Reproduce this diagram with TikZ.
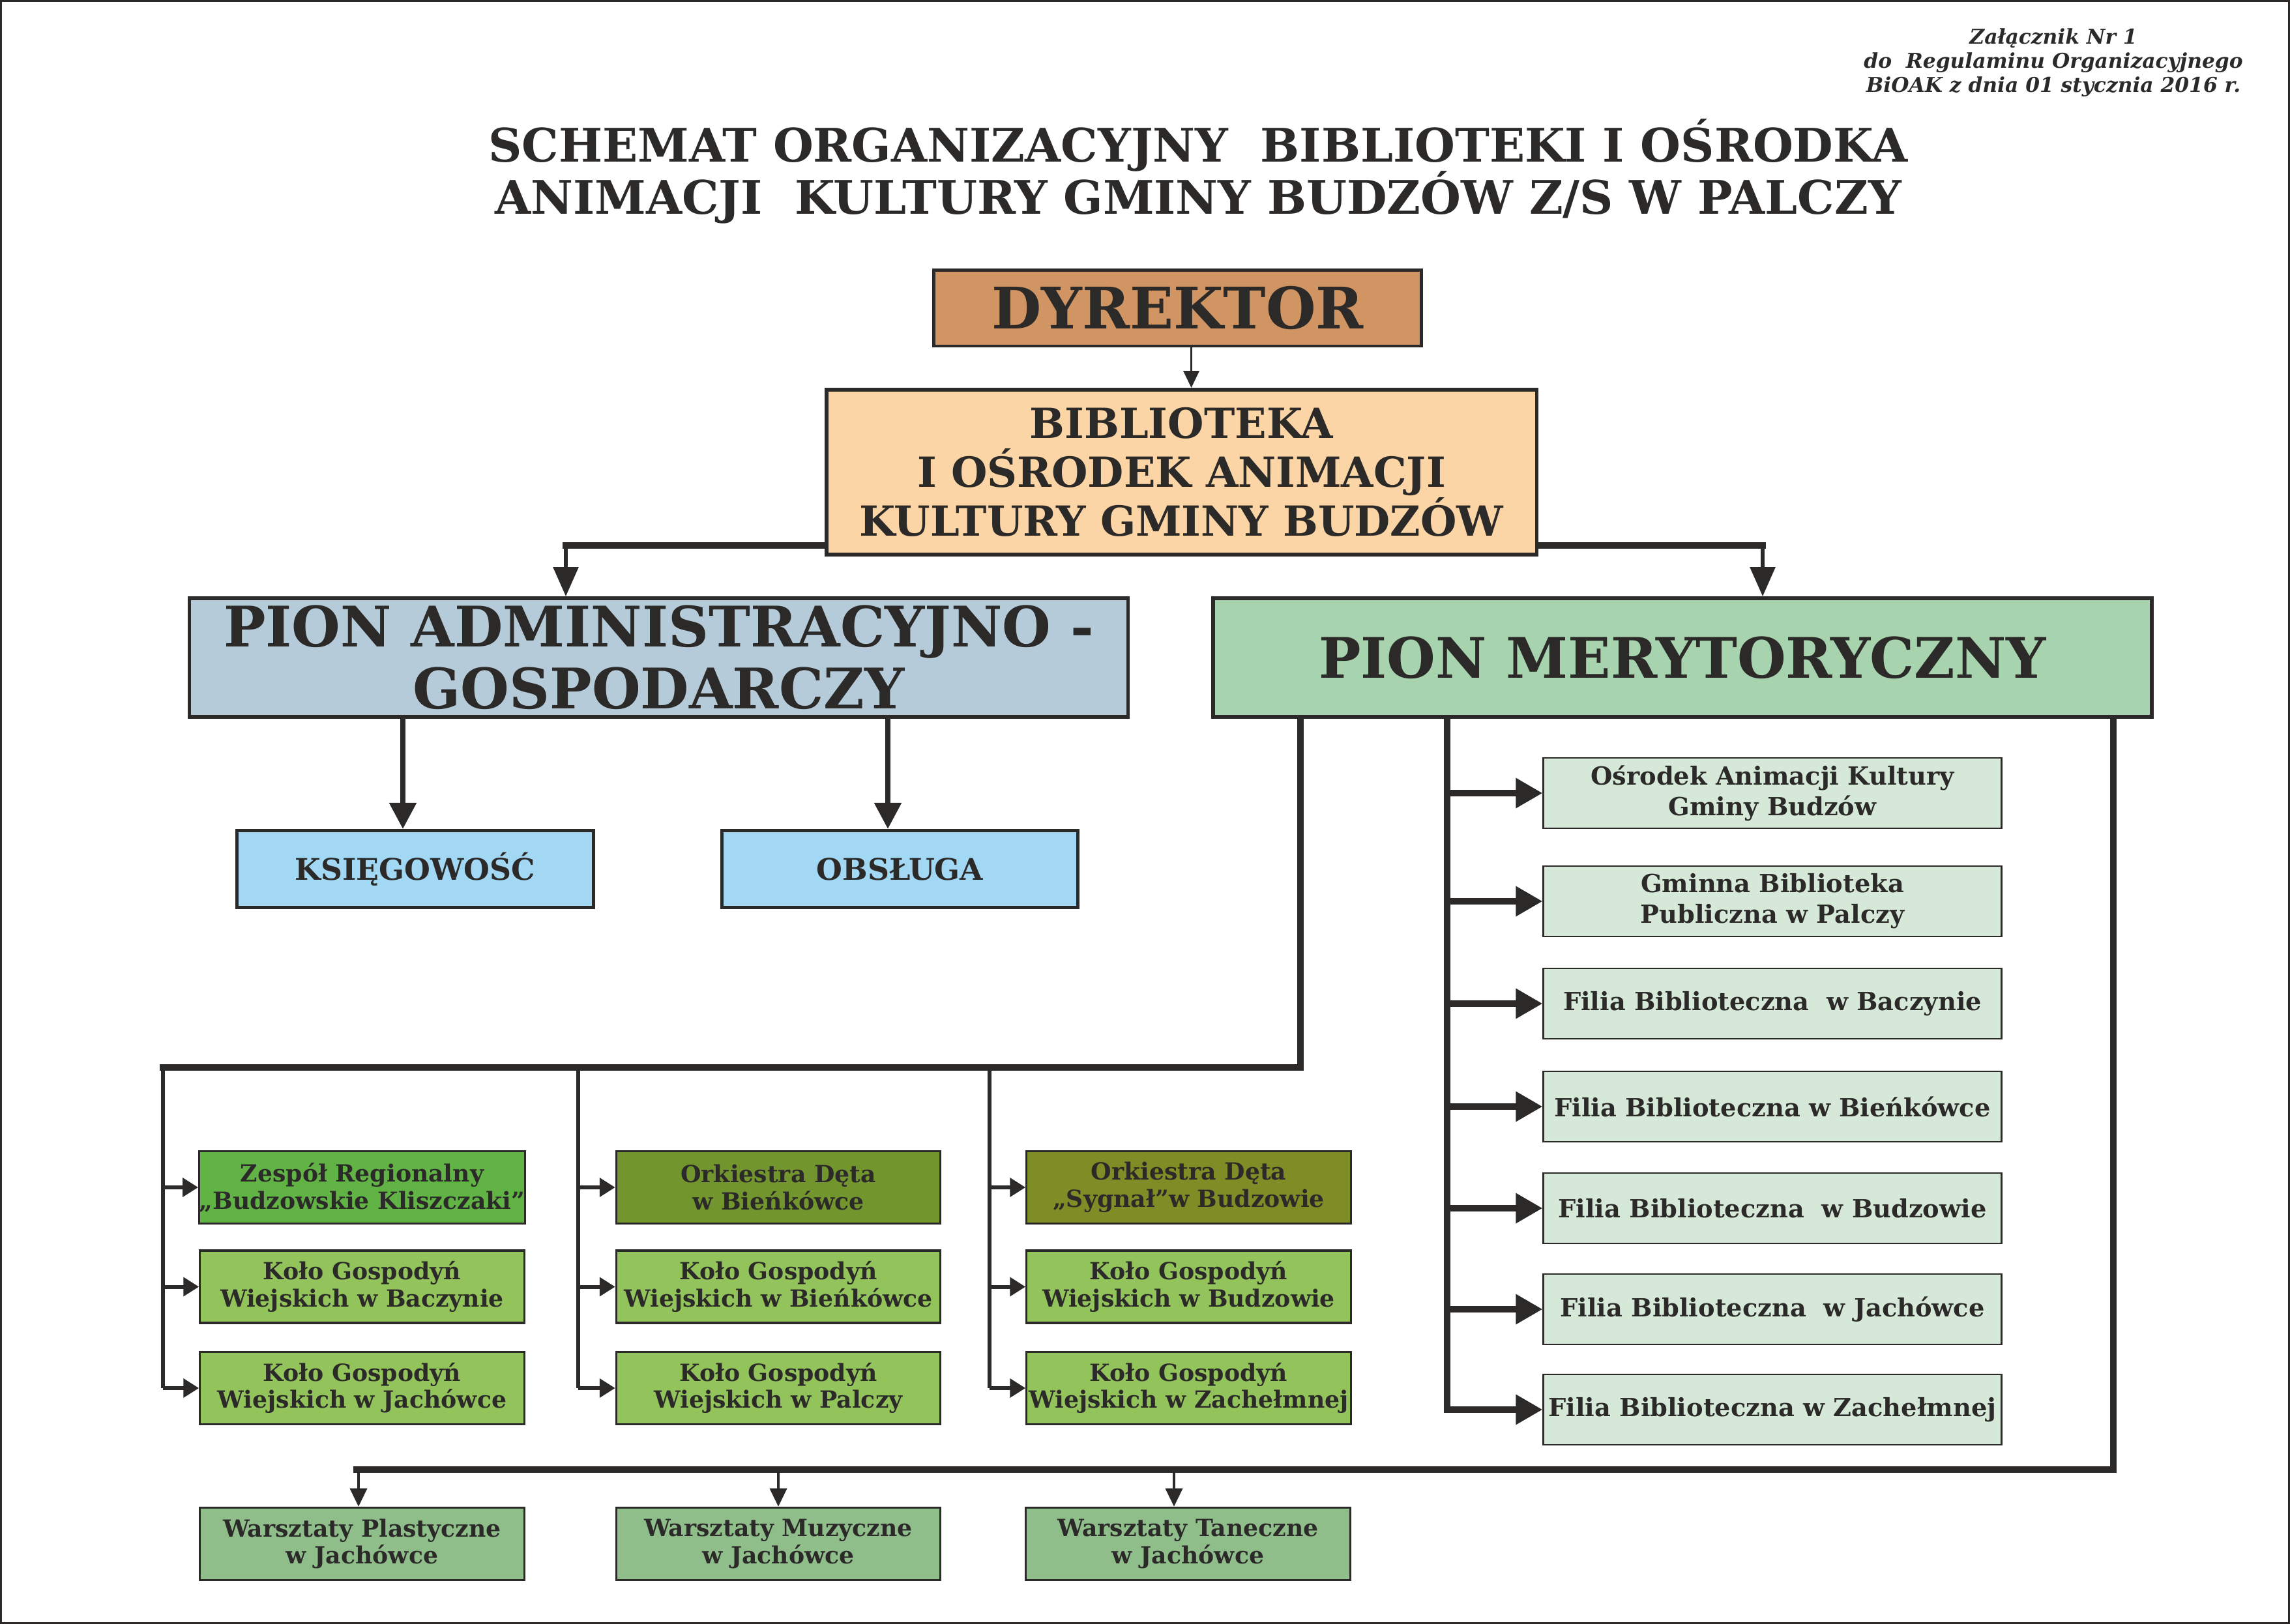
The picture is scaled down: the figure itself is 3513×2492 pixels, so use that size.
\documentclass[tikz,border=0pt]{standalone}
\usepackage{fontspec}
\setmainfont{DejaVu Serif}
\usetikzlibrary{arrows.meta}
\definecolor{ink}{HTML}{2B2A29}
\definecolor{dyrfill}{HTML}{D09563}
\definecolor{bibfill}{HTML}{FBD5A5}
\definecolor{admfill}{HTML}{B6CBD9}
\definecolor{merfill}{HTML}{A7D4AE}
\definecolor{servfill}{HTML}{A2D8F4}
\definecolor{libfill}{HTML}{D6E9D8}
\definecolor{zespfill}{HTML}{62B346}
\definecolor{orkfill}{HTML}{72962D}
\definecolor{sygfill}{HTML}{7F8D26}
\definecolor{kgwfill}{HTML}{93C35B}
\definecolor{warfill}{HTML}{8FBE8B}

\begin{document}
\begin{tikzpicture}[x=0.01cm,y=-0.01cm,
  orgbox/.style={draw=ink,text=ink,align=center,inner sep=0pt},
  dyrbox/.style={orgbox,line width=1.4pt,fill=dyrfill,minimum width=7.47cm,minimum height=1.16cm,font=\bfseries\fontsize{25}{30}\selectfont},
  bibbox/.style={orgbox,line width=1.6pt,fill=bibfill,minimum width=10.89cm,minimum height=2.53cm,font=\bfseries\fontsize{18.1}{21.3}\selectfont},
  pionbox/.style={orgbox,line width=1.6pt,minimum width=14.39cm,minimum height=1.82cm,font=\bfseries\fontsize{24.4}{27}\selectfont},
  servbox/.style={orgbox,line width=1.4pt,fill=servfill,minimum width=5.46cm,minimum height=1.18cm,font=\bfseries\fontsize{13}{16}\selectfont},
  libbox/.style={orgbox,line width=0.8pt,fill=libfill,minimum width=7.02cm,minimum height=1.08cm,font=\bfseries\fontsize{10.9}{13.4}\selectfont},
  clubbox/.style={orgbox,line width=0.9pt,minimum width=4.97cm,minimum height=1.11cm,font=\bfseries\fontsize{10.3}{11.9}\selectfont},
  bus/.style={draw=ink,line width=2.85pt,line cap=rect},
  drop/.style={draw=ink,line width=1.8pt},
  thinarrow/.style={draw=ink,line width=1.1pt,-{Triangle[length=7.4pt,width=6.8pt]}},
  pionarrow/.style={draw=ink,line width=1.7pt,-{Triangle[length=12.8pt,width=10.8pt]}},
  midarrow/.style={draw=ink,line width=2.3pt,-{Triangle[length=11.4pt,width=11.4pt]}},
  libarrow/.style={draw=ink,line width=2.85pt,-{Triangle[length=11.7pt,width=12.5pt]}},
  clubarrow/.style={draw=ink,line width=1.7pt,-{Triangle[length=6.8pt,width=8pt]}},
  workarrow/.style={draw=ink,line width=1.2pt,-{Triangle[length=8pt,width=7.4pt]}}]
  \useasboundingbox (0,0) rectangle (3513,2492);
  \draw[ink,line width=0.8pt] (1.5,1.5) rectangle (3511.5,2490.5);

  \node[text=ink,align=center,font=\bfseries\itshape\fontsize{8.9}{10.5}\selectfont] (annex) at (3150,96) {Załącznik Nr 1\\do\ \ Regulaminu Organizacyjnego\\BiOAK z dnia 01 stycznia 2016 r.};
  \node[text=ink,align=center,font=\bfseries\fontsize{20.2}{23}\selectfont] (title) at (1838,263) {SCHEMAT ORGANIZACYJNY\ \ BIBLIOTEKI I OŚRODKA\\ANIMACJI\ \ KULTURY GMINY BUDZÓW Z/S W PALCZY};

  \node[dyrbox] (dyr) at (1806.5,473) {DYREKTOR};
  \node[bibbox] (bib) at (1812.5,724.5) {BIBLIOTEKA\\I OŚRODEK ANIMACJI\\KULTURY GMINY BUDZÓW};
  \node[pionbox,fill=admfill] (adm) at (1010.5,1009) {PION ADMINISTRACYJNO -\\GOSPODARCZY};
  \node[pionbox,fill=merfill] (mer) at (2581,1009) {PION MERYTORYCZNY};
  \node[servbox] (ksi) at (637,1333.5) {KSIĘGOWOŚĆ};
  \node[servbox] (obs) at (1380.5,1333.5) {OBSŁUGA};

  \node[libbox] (r1) at (2719,1217) {Ośrodek Animacji Kultury\\Gminy Budzów};
  \node[libbox] (r2) at (2719,1383) {Gminna Biblioteka\\Publiczna w Palczy};
  \node[libbox] (r3) at (2719,1540) {Filia Biblioteczna\ \ w Baczynie};
  \node[libbox] (r4) at (2719,1698) {Filia Biblioteczna w Bieńkówce};
  \node[libbox] (r5) at (2719,1854) {Filia Biblioteczna\ \ w Budzowie};
  \node[libbox] (r6) at (2719,2009) {Filia Biblioteczna\ \ w Jachówce};
  \node[libbox] (r7) at (2719,2163) {Filia Biblioteczna w Zachełmnej};

  \node[clubbox,fill=zespfill] (g11) at (555.5,1822) {Zespół Regionalny\\„Budzowskie Kliszczaki”};
  \node[clubbox,fill=kgwfill] (g12) at (555.5,1974.5) {Koło Gospodyń\\Wiejskich w Baczynie};
  \node[clubbox,fill=kgwfill] (g13) at (555.5,2130) {Koło Gospodyń\\Wiejskich w Jachówce};
  \node[clubbox,fill=orkfill] (g21) at (1194,1822) {Orkiestra Dęta\\w Bieńkówce};
  \node[clubbox,fill=kgwfill] (g22) at (1194,1974.5) {Koło Gospodyń\\Wiejskich w Bieńkówce};
  \node[clubbox,fill=kgwfill] (g23) at (1194,2130) {Koło Gospodyń\\Wiejskich w Palczy};
  \node[clubbox,fill=sygfill] (g31) at (1823.5,1822) {Orkiestra Dęta\\„Sygnał”w Budzowie};
  \node[clubbox,fill=kgwfill] (g32) at (1823.5,1974.5) {Koło Gospodyń\\Wiejskich w Budzowie};
  \node[clubbox,fill=kgwfill] (g33) at (1823.5,2130) {Koło Gospodyń\\Wiejskich w Zachełmnej};

  \node[clubbox,fill=warfill] (w1) at (555.5,2369) {Warsztaty Plastyczne\\w Jachówce};
  \node[clubbox,fill=warfill] (w2) at (1194,2369) {Warsztaty Muzyczne\\w Jachówce};
  \node[clubbox,fill=warfill] (w3) at (1822.5,2369) {Warsztaty Taneczne\\w Jachówce};

  \coordinate (ja) at (868,837);
  \coordinate (jm) at (2704,837);
  \coordinate (lb) at (1995,1638);
  \coordinate (c1) at (250,1638);
  \coordinate (c2) at (887,1638);
  \coordinate (c3) at (1518,1638);
  \coordinate (rx) at (2220,0);
  \coordinate (wx) at (3242,2255);
  \coordinate (wl) at (547,2255);

  \draw[thinarrow] ([xshift=0.21cm]dyr.south) -- ([xshift=0.21cm]dyr.south |- bib.north);
  \draw[bus] (bib.west |- ja) -- (ja);
  \draw[bus] (bib.east |- jm) -- (jm);
  \draw[pionarrow] (ja) -- (ja |- adm.north);
  \draw[pionarrow] (jm) -- (jm |- mer.north);
  \draw[midarrow] ([xshift=-0.19cm]ksi.north |- adm.south) -- ([xshift=-0.19cm]ksi.north);
  \draw[midarrow] ([xshift=-0.185cm]obs.north |- adm.south) -- ([xshift=-0.185cm]obs.north);

  \draw[bus] (mer.south -| lb) -- (lb) -- (c1);
  \foreach \c in {1,2,3} {
    \draw[drop] (c\c) -- (c\c |- g\c3.west);
    \foreach \r in {1,2,3}
      \draw[clubarrow] (c\c |- g\c\r.west) -- (g\c\r.west);
  }

  \draw[bus] (mer.south -| rx) -- (rx |- r7.west);
  \foreach \i in {1,...,7}
    \draw[libarrow] (rx |- r\i.west) -- (r\i.west);

  \draw[bus] (mer.south -| wx) -- (wx) -- (wl);
  \draw[workarrow] ([xshift=-0.055cm]w1.north |- wl) -- ([xshift=-0.055cm]w1.north);
  \draw[workarrow] (w2.north |- wl) -- (w2.north);
  \draw[workarrow] ([xshift=-0.215cm]w3.north |- wl) -- ([xshift=-0.215cm]w3.north);
\end{tikzpicture}
\end{document}
